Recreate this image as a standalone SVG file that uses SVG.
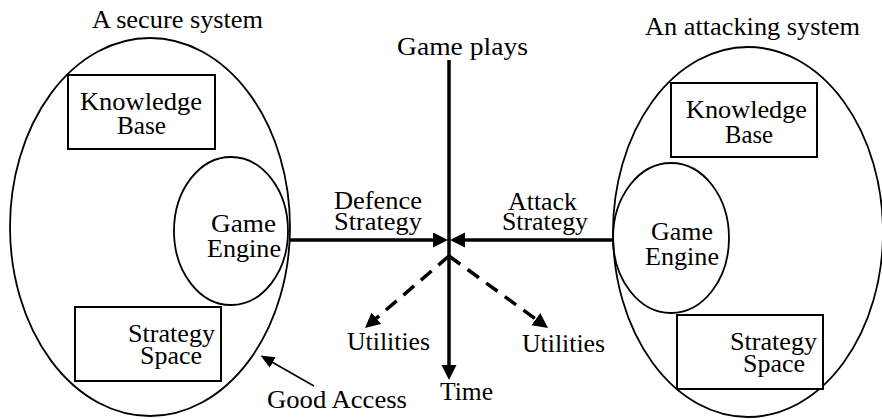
<svg xmlns="http://www.w3.org/2000/svg" width="882" height="419" viewBox="0 0 882 419">
<style>
text{font-family:"Liberation Serif","Times New Roman","DejaVu Serif",serif;font-size:25px;fill:#000}
.sh{fill:none;stroke:#000;stroke-width:1.8}
.bx{fill:#fff;stroke:#000;stroke-width:2}
.thick{fill:none;stroke:#000;stroke-width:3.5}
.dash{fill:none;stroke:#000;stroke-width:3.5;stroke-dasharray:14 9}
.thin{fill:none;stroke:#000;stroke-width:1.5}
</style>
<defs>
<marker id="ah" markerUnits="userSpaceOnUse" markerWidth="16" markerHeight="16" refX="3" refY="7.5" orient="auto">
<path d="M0,0 L15,7.5 L0,15 z" fill="#000"/>
</marker>
<marker id="ahs" markerUnits="userSpaceOnUse" markerWidth="15" markerHeight="13" refX="2" refY="6" orient="auto">
<path d="M0,0 L14,6 L0,12 z" fill="#000"/>
</marker>
</defs>
<rect width="882" height="419" fill="#fff"/>

<g id="secure-system">
<ellipse class="sh" cx="150" cy="227" rx="140" ry="189"/>
<text x="92" y="28" textLength="171" lengthAdjust="spacingAndGlyphs">A secure system</text>
</g>
<g id="secure-kb">
<rect class="bx" x="68" y="75" width="147" height="74"/>
<text x="80" y="110" textLength="122" lengthAdjust="spacingAndGlyphs">Knowledge</text>
<text x="117" y="134" textLength="49" lengthAdjust="spacingAndGlyphs">Base</text>
</g>
<g id="secure-engine">
<ellipse class="sh" cx="231" cy="231" rx="57" ry="74"/>
<text x="211" y="232" textLength="65" lengthAdjust="spacingAndGlyphs">Game</text>
<text x="207" y="257" textLength="74" lengthAdjust="spacingAndGlyphs">Engine</text>
</g>
<g id="secure-space">
<rect class="bx" x="75" y="307" width="146" height="74"/>
<text x="128" y="342" textLength="87" lengthAdjust="spacingAndGlyphs">Strategy</text>
<text x="140" y="364" textLength="62" lengthAdjust="spacingAndGlyphs">Space</text>
</g>

<g id="attacking-system">
<ellipse class="sh" cx="748" cy="232" rx="135" ry="185"/>
<text x="645" y="35" textLength="215" lengthAdjust="spacingAndGlyphs">An attacking system</text>
</g>
<g id="attack-kb">
<rect class="bx" x="671" y="83" width="146" height="74"/>
<text x="686" y="118" textLength="121" lengthAdjust="spacingAndGlyphs">Knowledge</text>
<text x="725" y="143" textLength="48" lengthAdjust="spacingAndGlyphs">Base</text>
</g>
<g id="attack-engine">
<ellipse class="sh" cx="671" cy="238" rx="58" ry="75"/>
<text x="651" y="240" textLength="62" lengthAdjust="spacingAndGlyphs">Game</text>
<text x="645" y="265" textLength="74" lengthAdjust="spacingAndGlyphs">Engine</text>
</g>
<g id="attack-space">
<rect class="bx" x="677" y="315" width="146" height="74"/>
<text x="730" y="350" textLength="87" lengthAdjust="spacingAndGlyphs">Strategy</text>
<text x="743" y="372" textLength="62" lengthAdjust="spacingAndGlyphs">Space</text>
</g>

<g id="connectors">
<path class="thick" d="M449,60 L449,368" marker-end="url(#ah)"/>
<path class="thick" d="M290,240 L436,240" marker-end="url(#ah)"/>
<path class="thick" d="M613,240 L462,240" marker-end="url(#ah)"/>
<path class="dash" d="M449,256 L374.1,320.2" marker-end="url(#ah)"/>
<path class="dash" d="M449,256 L538.3,320.9" marker-end="url(#ah)"/>
<path class="thin" d="M314,386 L271,361.5" marker-end="url(#ahs)"/>
</g>

<g id="labels">
<text x="397" y="55" textLength="131" lengthAdjust="spacingAndGlyphs">Game plays</text>
<text x="334" y="209" textLength="88" lengthAdjust="spacingAndGlyphs">Defence</text>
<text x="334" y="230" textLength="88" lengthAdjust="spacingAndGlyphs">Strategy</text>
<text x="508" y="210" textLength="69" lengthAdjust="spacingAndGlyphs">Attack</text>
<text x="502" y="230" textLength="86" lengthAdjust="spacingAndGlyphs">Strategy</text>
<text x="347" y="350" textLength="83" lengthAdjust="spacingAndGlyphs">Utilities</text>
<text x="522" y="352" textLength="83" lengthAdjust="spacingAndGlyphs">Utilities</text>
<text x="440" y="400" textLength="53" lengthAdjust="spacingAndGlyphs">Time</text>
<text x="267" y="408" textLength="140" lengthAdjust="spacingAndGlyphs">Good Access</text>
</g>
</svg>
